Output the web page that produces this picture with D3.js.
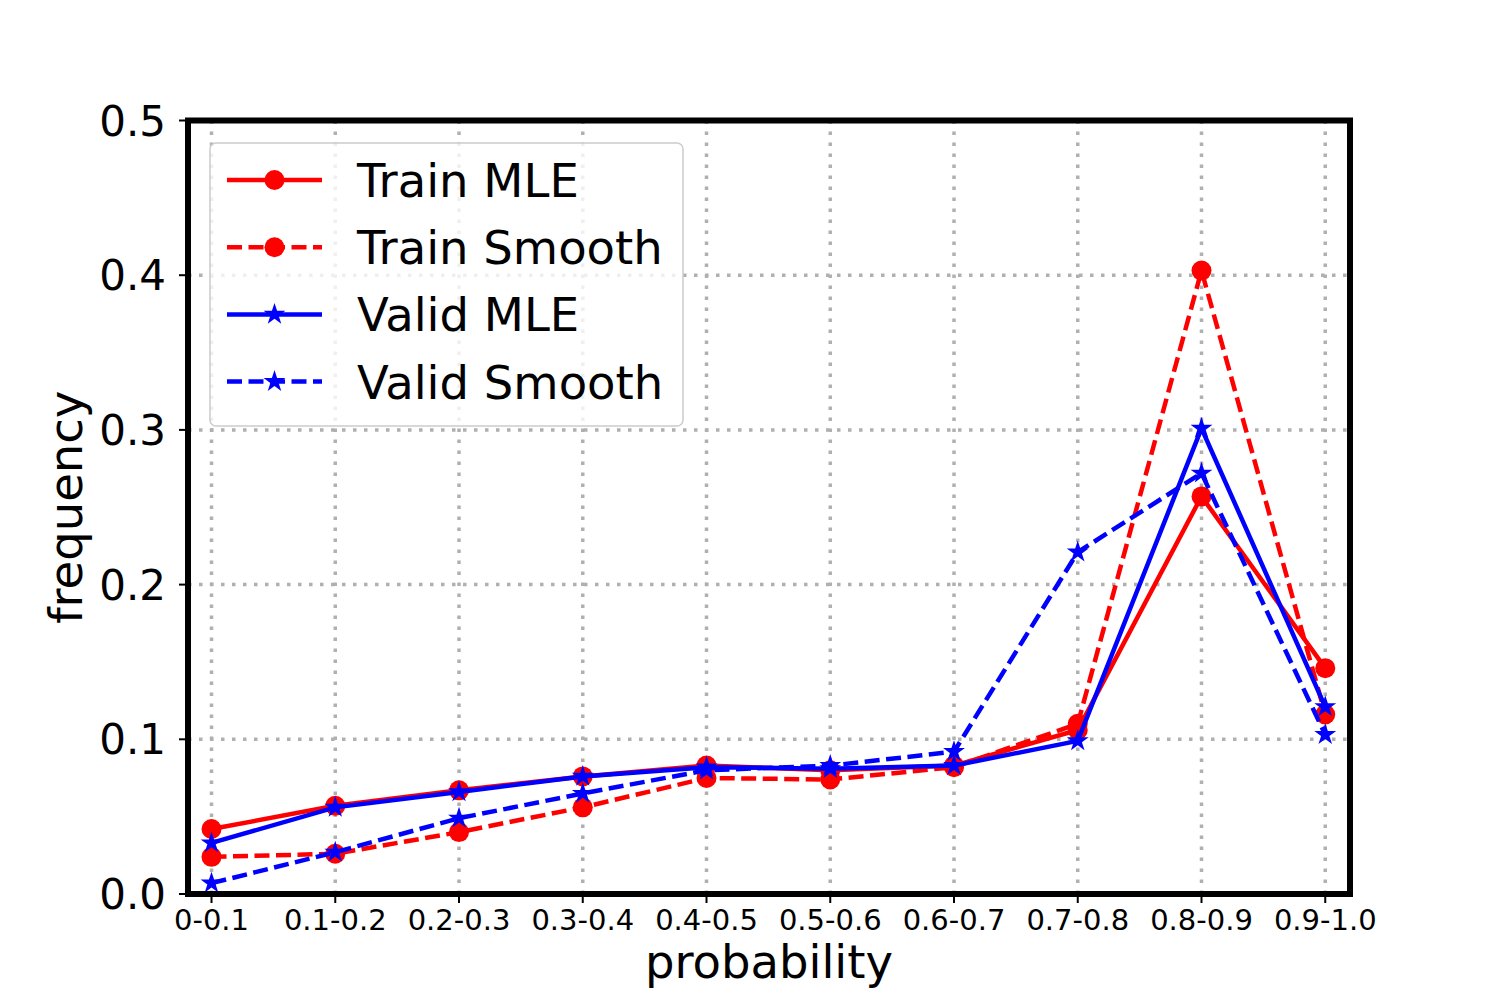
<!DOCTYPE html>
<html>
<head>
<meta charset="utf-8">
<script src="https://cdn.jsdelivr.net/npm/d3@7"></script>
<style>
  body { margin: 0; background: #fff; }
  text { font-family: "DejaVu Sans", sans-serif; }
</style>
</head>
<body>
<div id="chart"></div>
<script>
const categories = ["0-0.1", "0.1-0.2", "0.2-0.3", "0.3-0.4", "0.4-0.5", "0.5-0.6", "0.6-0.7", "0.7-0.8", "0.8-0.9", "0.9-1.0"];
const trainMLE = [0.042, 0.057, 0.067, 0.076, 0.083, 0.080, 0.083, 0.106, 0.257, 0.146];
const trainSmooth = [0.024, 0.026, 0.040, 0.056, 0.075, 0.074, 0.082, 0.110, 0.403, 0.116];
const validMLE = [0.033, 0.056, 0.066, 0.076, 0.082, 0.081, 0.083, 0.099, 0.301, 0.121];
const validSmooth = [0.007, 0.027, 0.049, 0.065, 0.080, 0.083, 0.092, 0.221, 0.272, 0.103];
const yTicks = [0, 0.1, 0.2, 0.3, 0.4, 0.5];

const series = [
  { name: "Train MLE", values: trainMLE, color: "#ff0000", dashed: false, marker: "circle" },
  { name: "Train Smooth", values: trainSmooth, color: "#ff0000", dashed: true, marker: "circle" },
  { name: "Valid MLE", values: validMLE, color: "#0000ff", dashed: false, marker: "star" },
  { name: "Valid Smooth", values: validSmooth, color: "#0000ff", dashed: true, marker: "star" }
];

const width = 1500, height = 1005;
const plotLeft = 188, plotRight = 1350, plotTop = 120.5, plotBottom = 894;

const svg = d3.select("#chart").append("svg")
  .attr("width", width)
  .attr("height", height);

const x = d3.scaleLinear().domain([-0.19, categories.length - 1 + 0.2]).range([plotLeft, plotRight]);
const y = d3.scaleLinear().domain([0, 0.5]).range([plotBottom, plotTop]);

// grid
const grid = svg.append("g")
  .attr("stroke", "#b0b0b0")
  .attr("stroke-width", 3.5)
  .attr("stroke-dasharray", "3.5,7.5");
grid.selectAll(".gx").data(categories).enter().append("line")
  .attr("x1", (d, i) => x(i)).attr("x2", (d, i) => x(i))
  .attr("y1", plotBottom).attr("y2", plotTop);
grid.selectAll(".gy").data(yTicks).enter().append("line")
  .attr("x1", plotLeft).attr("x2", plotRight)
  .attr("y1", d => y(d)).attr("y2", d => y(d));

// star path, outer radius r, matplotlib-like inner ratio
function starPath(r) {
  const inner = r * 0.381966;
  const pts = d3.range(10).map(k => {
    const a = -Math.PI / 2 + k * Math.PI / 5;
    const rr = k % 2 === 0 ? r : inner;
    return [rr * Math.cos(a), rr * Math.sin(a)];
  });
  return "M" + pts.map(p => p.join(",")).join("L") + "Z";
}

function drawMarker(g, s, cx, cy) {
  if (s.marker === "circle") {
    g.append("circle").attr("cx", cx).attr("cy", cy).attr("r", 10).attr("fill", s.color);
  } else {
    g.append("path").attr("d", starPath(11.5))
      .attr("transform", `translate(${cx},${cy})`)
      .attr("fill", s.color);
  }
}

const line = d3.line().x((d, i) => x(i)).y(d => y(d));

series.forEach(s => {
  const g = svg.append("g");
  g.append("path")
    .attr("d", line(s.values))
    .attr("fill", "none")
    .attr("stroke", s.color)
    .attr("stroke-width", 4.5)
    .attr("stroke-dasharray", s.dashed ? "15,6.5" : null);
  s.values.forEach((v, i) => drawMarker(g, s, x(i), y(v)));
});

// frame
svg.append("rect")
  .attr("x", plotLeft).attr("y", plotTop)
  .attr("width", plotRight - plotLeft).attr("height", plotBottom - plotTop)
  .attr("fill", "none").attr("stroke", "#000").attr("stroke-width", 6);

// y ticks
const yAxis = svg.append("g");
yTicks.forEach(t => {
  yAxis.append("line").attr("x1", plotLeft - 3).attr("x2", plotLeft - 9)
    .attr("y1", y(t)).attr("y2", y(t)).attr("stroke", "#000").attr("stroke-width", 2);
  yAxis.append("text").attr("x", 166).attr("y", y(t) + 15)
    .attr("text-anchor", "end").attr("font-size", 42).text(t.toFixed(1));
});

// x ticks
const xAxis = svg.append("g");
categories.forEach((c, i) => {
  xAxis.append("line").attr("x1", x(i)).attr("x2", x(i))
    .attr("y1", plotBottom + 3).attr("y2", plotBottom + 9).attr("stroke", "#000").attr("stroke-width", 2);
  xAxis.append("text").attr("x", x(i)).attr("y", 930)
    .attr("text-anchor", "middle").attr("font-size", 29).text(c);
});

// axis labels
svg.append("text").attr("x", (plotLeft + plotRight) / 2).attr("y", 978)
  .attr("text-anchor", "middle").attr("font-size", 46.5).text("probability");
svg.append("text")
  .attr("transform", `translate(82,${(plotTop + plotBottom) / 2}) rotate(-90)`)
  .attr("text-anchor", "middle").attr("font-size", 46.5).text("frequency");

// legend
const legend = svg.append("g");
legend.append("rect")
  .attr("x", 210).attr("y", 143).attr("width", 473).attr("height", 283)
  .attr("rx", 6).attr("fill", "rgba(255,255,255,0.8)")
  .attr("stroke", "#cccccc").attr("stroke-width", 1.5);
series.forEach((s, k) => {
  const ry = 180 + k * 67.2;
  legend.append("line")
    .attr("x1", 227).attr("x2", 322).attr("y1", ry).attr("y2", ry)
    .attr("stroke", s.color).attr("stroke-width", 4.5)
    .attr("stroke-dasharray", s.dashed ? "15,6.5" : null);
  drawMarker(legend, s, 274.5, ry);
  legend.append("text").attr("x", 357).attr("y", ry + 17)
    .attr("font-size", 46.5).text(s.name);
});
</script>
</body>
</html>
